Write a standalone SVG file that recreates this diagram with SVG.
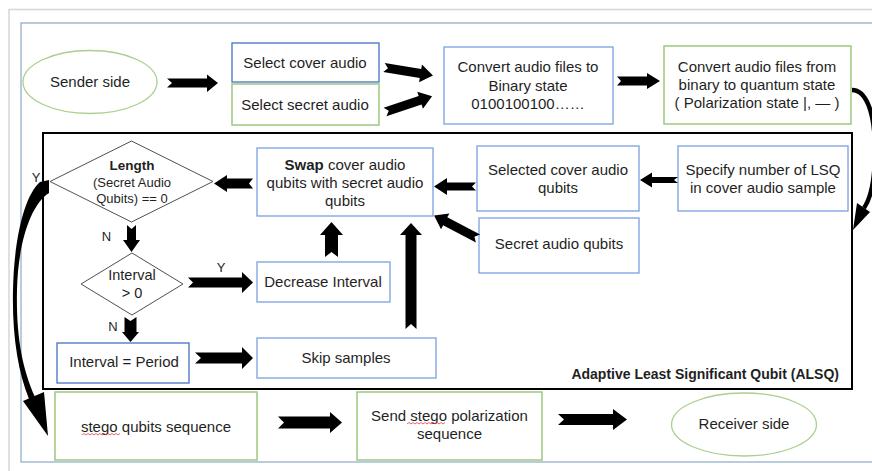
<svg xmlns="http://www.w3.org/2000/svg" width="872" height="471" viewBox="0 0 872 471">
  <style>
    text { font-family: "Liberation Sans", Arial, sans-serif; font-size: 15px; fill: #1f1f1f; text-anchor: middle; }
    .sm { font-size: 13px; }
    .md { font-size: 14.5px; }
    .b { font-weight: bold; }
    .blue { fill: #ffffff; stroke: #4472c4; stroke-width: 1.3; }
    .lblue { fill: #ffffff; stroke: #7a9fdf; stroke-width: 1.3; }
    .green { fill: #ffffff; stroke: #9cc97c; stroke-width: 1.5; }
    .dia { fill: #ffffff; stroke: #505050; stroke-width: 1; }
    .arr { fill: #000000; }
    .squig { fill: none; stroke: #e04040; stroke-width: 0.8; }
  </style>
  <defs>
    <path id="slant" d="M0,-4.5 L37,-4.5 L37,-9 L49.6,0 L37,9 L37,4.5 L0,4.5 L4,0 Z"/>
  </defs>

  <!-- page and frames -->
  <rect x="0" y="0" width="872" height="471" fill="#ffffff"/>
  <path d="M9,471 L9,9.5 L872,9.5" fill="none" stroke="#d6d6d6" stroke-width="1.5"/>
  <rect x="21" y="23" width="900" height="439" fill="none" stroke="#8ea9c8" stroke-width="1.2"/>

  <!-- ALSQ block -->
  <g id="alsq">
    <rect x="43" y="133" width="809" height="256" fill="none" stroke="#000000" stroke-width="2"/>
    <text class="b" x="839" y="379" style="text-anchor:end;font-size:14px">Adaptive Least Significant Qubit (ALSQ)</text>
  </g>

  <g id="sender">
    <ellipse cx="90" cy="82" rx="67" ry="31.5" fill="#ffffff" stroke="#a9d08e" stroke-width="1.3"/>
    <text x="90" y="87">Sender side</text>
  </g>

  <g id="select-cover">
    <rect class="blue" x="232" y="43" width="147" height="39"/>
    <text x="305" y="68">Select cover audio</text>
  </g>

  <g id="select-secret">
    <rect class="green" x="232" y="84" width="147" height="41"/>
    <text x="305" y="110">Select secret audio</text>
  </g>

  <g id="to-binary">
    <rect class="lblue" x="444" y="47" width="169" height="77"/>
    <text x="528" y="72">Convert audio files to</text>
    <text x="528" y="90.5">Binary state</text>
    <text x="528" y="109">0100100100……</text>
  </g>

  <g id="to-quantum">
    <rect class="green" x="664" y="46" width="187" height="78"/>
    <text x="757" y="72">Convert audio files from</text>
    <text x="757" y="90">binary to quantum state</text>
    <text x="757" y="108">( Polarization state |, — )</text>
  </g>

  <g id="specify-lsq">
    <rect class="lblue" x="678" y="146" width="170" height="65"/>
    <text x="763" y="175">Specify number of LSQ</text>
    <text x="763" y="193">in cover audio sample</text>
  </g>

  <g id="selected-cover">
    <rect class="lblue" x="477" y="146" width="162" height="65"/>
    <text x="558" y="175">Selected cover audio</text>
    <text x="558" y="193">qubits</text>
  </g>

  <g id="secret-qubits">
    <rect class="lblue" x="479" y="218" width="160" height="55"/>
    <text x="559" y="249">Secret audio qubits</text>
  </g>

  <g id="swap">
    <rect class="lblue" x="257" y="148" width="176" height="68"/>
    <text x="345" y="170"><tspan class="b">Swap</tspan> cover audio</text>
    <text x="345" y="188">qubits with secret audio</text>
    <text x="345" y="206">qubits</text>
  </g>

  <g id="length-check">
    <polygon class="dia" points="50,181.5 131.5,141 213,181.5 131.5,222"/>
    <text class="b" x="132" y="170" style="font-size:13.5px">Length</text>
    <text class="sm" x="132" y="187">(Secret Audio</text>
    <text class="sm" x="132" y="203">Qubits) == 0</text>
  </g>

  <g id="interval-check">
    <polygon class="dia" points="81,284 132,253 183,284 132,315"/>
    <text class="md" x="132" y="280">Interval</text>
    <text class="md" x="132" y="298">&gt; 0</text>
  </g>

  <g id="decrease">
    <rect class="lblue" x="257" y="262" width="133" height="40"/>
    <text x="323" y="287">Decrease Interval</text>
  </g>

  <g id="interval-period">
    <rect class="blue" x="57" y="343" width="132" height="40"/>
    <text x="124" y="367">Interval = Period</text>
  </g>

  <g id="skip">
    <rect class="lblue" x="257" y="338" width="179" height="40"/>
    <text x="346" y="363">Skip samples</text>
  </g>

  <g id="stego-seq">
    <rect class="green" x="55" y="392" width="202" height="68"/>
    <text x="156" y="432">stego qubits sequence</text>
    <path class="squig" d="M82,435 l2,-1.5 l2,1.5 l2,-1.5 l2,1.5 l2,-1.5 l2,1.5 l2,-1.5 l2,1.5 l2,-1.5 l2,1.5 l2,-1.5 l2,1.5 l2,-1.5 l2,1.5 l2,-1.5 l2,1.5 l2,-1.5 l2,1.5 l2,-1.5"/>
  </g>

  <g id="send">
    <rect class="green" x="357" y="392" width="185" height="68"/>
    <text x="449.5" y="421">Send stego polarization</text>
    <text x="449.5" y="439">sequence</text>
    <path class="squig" d="M407,424 l2,-1.5 l2,1.5 l2,-1.5 l2,1.5 l2,-1.5 l2,1.5 l2,-1.5 l2,1.5 l2,-1.5 l2,1.5 l2,-1.5 l2,1.5 l2,-1.5 l2,1.5 l2,-1.5 l2,1.5 l2,-1.5 l2,1.5 l2,-1.5"/>
  </g>

  <g id="receiver">
    <ellipse cx="744" cy="424.5" rx="72.5" ry="31.5" fill="#ffffff" stroke="#a9d08e" stroke-width="1.3"/>
    <text x="744" y="429">Receiver side</text>
  </g>

  <!-- connectors -->
  <g id="connectors">
    <path class="arr" d="M167,78.5 L207,78.5 L207,74.5 L218,83 L207,92 L207,87.5 L167,87.5 L172,83 Z"/>
    <use href="#slant" transform="translate(384,67.5) rotate(9.3)"/>
    <use href="#slant" transform="translate(385,112) rotate(-18.4)"/>
    <path class="arr" d="M617,76.5 L647,76.5 L647,73 L660,81 L647,89 L647,85.5 L617,85.5 L621,81 Z"/>
    <path class="arr" d="M678,177 L652,177 L652,172.5 L640,180 L652,187.5 L652,183 L678,183 L674,180 Z"/>
    <path class="arr" d="M476,182.5 L447,182.5 L447,178 L434,186.5 L447,195 L447,190.5 L476,190.5 L472,186.5 Z"/>
    <use href="#slant" transform="translate(478,238.5) rotate(207.6)"/>
    <path class="arr" d="M253,178.5 L227,178.5 L227,175 L214,183.5 L227,192 L227,188.5 L253,188.5 L249,183.5 Z"/>
    <path class="arr" d="M127,225 L127,240 L123,240 L131.5,252 L140,240 L136,240 L136,225 L131.5,229 Z"/>
    <path class="arr" d="M188,277.5 L242,277.5 L242,272 L253,282.5 L242,293 L242,287.5 L188,287.5 L193,282.5 Z"/>
    <path class="arr" d="M325,257 L325,235 L320,235 L331.5,222 L343,235 L338,235 L338,257 L331.5,252 Z"/>
    <path class="arr" d="M405.5,329 L405.5,235 L400,235 L411,223 L422,235 L416.5,235 L416.5,329 L411,324 Z"/>
    <path class="arr" d="M124.5,317 L124.5,332 L122,332 L130.5,342 L139,332 L136.5,332 L136.5,317 L130.5,321 Z"/>
    <path class="arr" d="M195,352.5 L242,352.5 L242,347 L253,358 L242,369 L242,363.5 L195,363.5 L201,358 Z"/>
    <path class="arr" d="M278,416.5 L330,416.5 L330,412 L342,422.5 L330,433 L330,428.5 L278,428.5 L284,422.5 Z"/>
    <path class="arr" d="M558,414 L613,414 L613,409 L627,419.5 L613,430 L613,425 L558,425 L564,419.5 Z"/>
    <!-- curved exit from the length test down to the stego sequence -->
    <path class="arr" d="M49,180 L40,182 C24,196 14,240 13,290 C12,335 18,372 29,399 L35,397 C22,368 16,335 17,290 C18,245 30,205 49,193 Z"/>
    <polygon class="arr" points="23,401 44,392 48,436"/>
    <!-- curved link from the quantum conversion into the ALSQ block -->
    <path d="M852,90 C866,90 875,112 875,150 C875,180 871,198 864,208" fill="none" stroke="#000000" stroke-width="4.5"/>
    <polygon class="arr" points="857,203 870,212 853,230"/>
    <text class="sm" x="36" y="182">Y</text>
    <text class="sm" x="106.5" y="240.5">N</text>
    <text class="sm" x="221" y="272">Y</text>
    <text class="sm" x="113" y="331">N</text>
  </g>
</svg>
